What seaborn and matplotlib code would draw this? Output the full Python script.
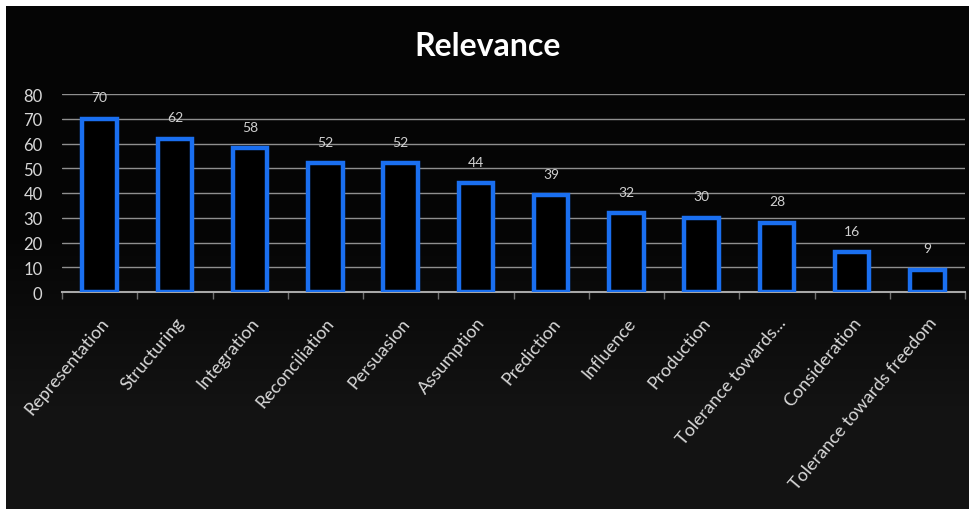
import matplotlib
matplotlib.use("Agg")
import matplotlib.pyplot as plt
import seaborn as sns
import pandas as pd
import numpy as np

categories = ["Representation", "Structuring", "Integration", "Reconciliation",
              "Persuasion", "Assumption", "Prediction", "Influence", "Production",
              "Tolerance towards...", "Consideration", "Tolerance towards freedom"]
values = [70, 62, 58, 52, 52, 44, 39, 32, 30, 28, 16, 9]
yticks = [0, 10, 20, 30, 40, 50, 60, 70, 80]

sns.set_style("dark")
plt.rcParams['font.family'] = ['Lato', 'DejaVu Sans']

W, H = 969, 510
fig = plt.figure(figsize=(W / 100, H / 100), dpi=100)
fig.patch.set_facecolor("white")

# black chart panel with a subtle vertical gradient toward the bottom
bg = fig.add_axes([6 / W, 0, 1 - 6 / W, 1 - 7 / H], zorder=0)
grad = np.linspace(0, 1, 256)
levels = np.clip((grad - 0.45) / 0.35, 0, 1)
img = np.zeros((256, 1, 3))
shade = 0.02 + 0.055 * levels
img[:, 0, 0] = shade
img[:, 0, 1] = shade
img[:, 0, 2] = shade
bg.imshow(img, aspect="auto", extent=[0, 1, 0, 1], origin="upper")
bg.set_axis_off()

ax = fig.add_axes([62 / W, (H - 293) / H, (965 - 62) / W, (293 - 95) / H], zorder=1)
ax.set_facecolor("none")

df = pd.DataFrame({"cat": categories, "val": values})
sns.barplot(data=df, x="cat", y="val", ax=ax, width=0.46,
            facecolor="#000000", edgecolor="#1a6ff0", linewidth=3.2, zorder=3)

ax.set_ylim(0, 80)
ax.set_xlim(-0.5, len(categories) - 0.5)
ax.set_yticks(yticks)
ax.set_yticklabels([str(v) for v in yticks], color="#d8d8d8", fontsize=12)
ax.yaxis.grid(True, color="#8f8f8f", linewidth=1.0, zorder=0)
ax.xaxis.grid(False)
ax.tick_params(axis="y", length=0, pad=14)
for s in ["top", "right", "left"]:
    ax.spines[s].set_visible(False)
ax.spines["bottom"].set_color("#a8a8a8")
ax.spines["bottom"].set_linewidth(1.5)

# category labels
ax.set_xticks(range(len(categories)))
ax.set_xticklabels(categories, rotation=50, ha="right", rotation_mode="anchor",
                   color="#d8d8d8", fontsize=13)
ax.tick_params(axis="x", which="major", length=0, pad=16)
# small boundary ticks
ax.set_xticks([i - 0.5 for i in range(len(categories) + 1)], minor=True)
ax.tick_params(axis="x", which="minor", bottom=True, length=5, color="#707070", width=1)

ax.set_xlabel("")
ax.set_ylabel("")

for c in ax.containers:
    ax.bar_label(c, labels=[str(v) for v in values], padding=11, color="#d0d0d0", fontsize=10)

fig.text((6 + W) / 2 / W, 1 - 46 / H, "Relevance", ha="center", va="center",
         color="white", fontsize=23, fontweight="bold")

fig.savefig("out.png", dpi=100, facecolor=fig.get_facecolor())
